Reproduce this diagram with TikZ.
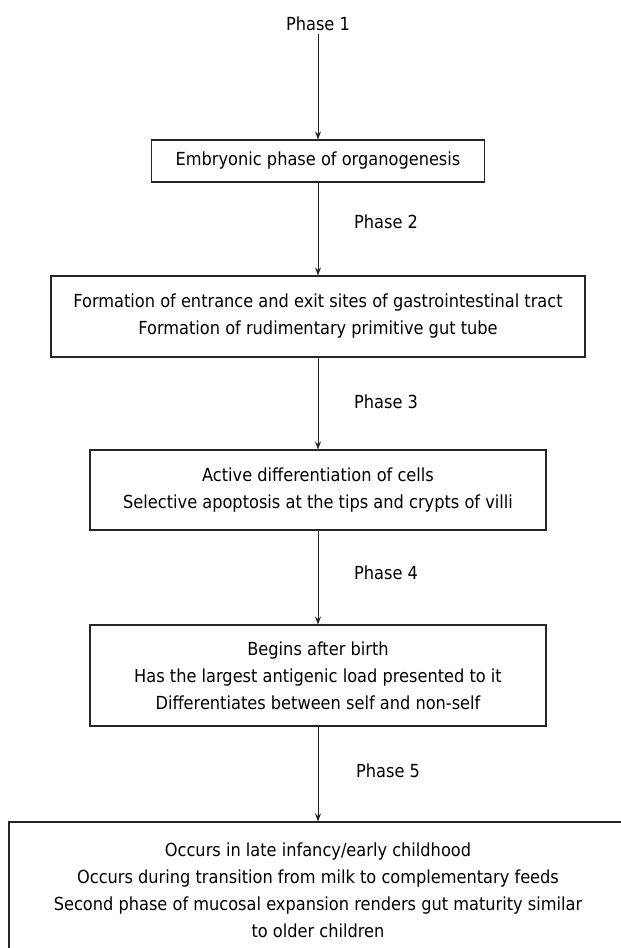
\documentclass[tikz,border=0pt]{standalone}
\usepackage{fontspec}
\setmainfont{DejaVu Sans}[FakeStretch=0.9]
\usetikzlibrary{arrows.meta,positioning}

\begin{document}
\begin{tikzpicture}[
  x=1pt,y=-1pt,
  every node/.style={font=\fontsize{18}{27}\selectfont,inner sep=0pt,align=center},
  phasebox/.style={draw=black!85,line width=1.1pt,rectangle},
  phase/.style={inner sep=3pt},
  flow/.style={draw=black!85,line width=1pt,-{Stealth[length=8pt,width=6pt]}}
  ]
  \useasboundingbox (0,0) rectangle (621,948);

  \node[phase] (ph1) at (318,24) {Phase 1};
  \node[phasebox,minimum width=333pt,minimum height=42pt] (embryo) at (318,161)
    {Embryonic phase of organogenesis};
  \draw[flow] (ph1) -- (embryo);

  \node[phase] (ph2) at (386,222) {Phase 2};
  \node[phasebox,minimum width=534pt,minimum height=81pt] (tube) at (318,316.5)
    {Formation of entrance and exit sites of gastrointestinal tract\\
     Formation of rudimentary primitive gut tube};
  \draw[flow] (embryo) -- (tube);

  \node[phase] (ph3) at (386,402) {Phase 3};
  \node[phasebox,minimum width=456pt,minimum height=80pt] (villi) at (318,490)
    {Active differentiation of cells\\
     Selective apoptosis at the tips and crypts of villi};
  \draw[flow] (tube) -- (villi);

  \node[phase] (ph4) at (386,573) {Phase 4};
  \node[phasebox,minimum width=456pt,minimum height=101pt] (birth) at (318,675.5)
    {Begins after birth\\
     Has the largest antigenic load presented to it\\
     Differentiates between self and non-self};
  \draw[flow] (villi) -- (birth);

  \node[phase] (ph5) at (388,771) {Phase 5};
  \node[phasebox,minimum width=618pt,minimum height=136pt] (child) at (318,890)
    {Occurs in late infancy/early childhood\\
     Occurs during transition from milk to complementary feeds\\
     Second phase of mucosal expansion renders gut maturity similar\\
     to older children};
  \draw[flow] (birth) -- (child);
\end{tikzpicture}
\end{document}
